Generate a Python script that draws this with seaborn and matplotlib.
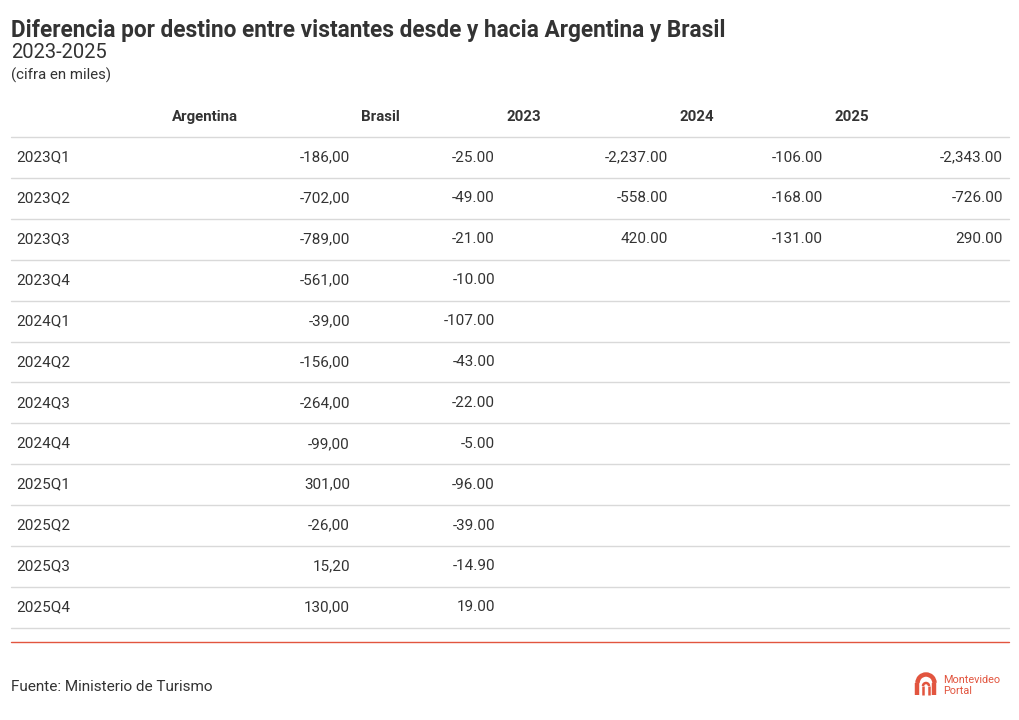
"""
Tabla: diferencia por destino entre visitantes desde y hacia Argentina y Brasil.
Se dibuja como tabla de texto sobre un eje en coordenadas de pixel.
"""
import matplotlib.pyplot as plt
import matplotlib.patches as mpatches
import seaborn as sns

# --- Datos ---
QUARTERS = ['2023Q1', '2023Q2', '2023Q3', '2023Q4', '2024Q1', '2024Q2',
            '2024Q3', '2024Q4', '2025Q1', '2025Q2', '2025Q3', '2025Q4']
ARGENTINA = [-186, -702, -789, -561, -39, -156, -264, -99, 301, -26, 15.2, 130]
BRASIL = [-25, -49, -21, -10, -107, -43, -22, -5, -96, -39, -14.9, 19]
Y2023 = [-2237, -558, 420]
Y2024 = [-106, -168, -131]
Y2025 = [-2343, -726, 290]
HEADERS = ['Argentina', 'Brasil', '2023', '2024', '2025']

TEXT = '#333333'
GRID = '#d9d9d9'
RED = '#e2553f'
FONT = 'Roboto'


def fmt_dot(v):
    return f'{v:,.2f}'


def fmt_comma(v):
    # formato con coma decimal, sin separador de miles
    return f'{v:.2f}'.replace('.', ',')


sns.set_theme(style='white')
plt.rcParams['font.family'] = [FONT, 'DejaVu Sans']

fig = plt.figure(figsize=(10.2, 7.2), dpi=100)
ax = fig.add_axes([0, 0, 1, 1])
ax.set_xlim(0, 1020)
ax.set_ylim(720, 0)
ax.axis('off')

# Titulos
ax.text(11, 31, 'Diferencia por destino entre vistantes desde y hacia Argentina y Brasil',
        fontsize=16.3, fontweight='bold', color=TEXT, va='center')
ax.text(11, 52, '2023-2025', fontsize=14.5, color=TEXT, va='center')
ax.text(11, 75, '(cifra en miles)', fontsize=10.8, color=TEXT, va='center')

# Encabezados
header_x = [172, 361, 507, 680, 835]
for x, h in zip(header_x, HEADERS):
    ax.text(x, 117, h, fontsize=10.8, fontweight='bold', color=TEXT, va='center')
ax.plot([11, 1009], [136.5, 136.5], color=GRID, lw=1)

# Filas
row_h = 40.9
y0 = 157.5
value_cols = [350, 495, 668, 823, 1003]
for i, q in enumerate(QUARTERS):
    y = y0 + i * row_h
    ax.text(16, y, q, fontsize=11, color=TEXT, va='center')
    ax.text(value_cols[0], y, fmt_comma(ARGENTINA[i]), fontsize=11,
            color=TEXT, va='center', ha='right')
    ax.text(value_cols[1], y, fmt_dot(BRASIL[i]), fontsize=11,
            color=TEXT, va='center', ha='right')
    for col, series in zip(value_cols[2:], [Y2023, Y2024, Y2025]):
        if i < len(series):
            ax.text(col, y, fmt_dot(series[i]), fontsize=11,
                    color=TEXT, va='center', ha='right')
    ly = y + row_h / 2
    ax.plot([11, 1009], [ly, ly], color=GRID, lw=1)

# Linea roja de cierre
ax.plot([11, 1009], [642, 642], color=RED, lw=1)

# Fuente
ax.text(11, 687, 'Fuente: Ministerio de Turismo', fontsize=11, color=TEXT, va='center')

# Logo (arco tipo "M" de Montevideo Portal)
arch = mpatches.Arc((926, 683), 17, 17, theta1=180, theta2=360, color=RED, lw=3.2)
ax.add_patch(arch)
ax.plot([917.5, 917.5], [683, 695], color=RED, lw=3.2, solid_capstyle='butt')
ax.plot([934.5, 934.5], [683, 695], color=RED, lw=3.2, solid_capstyle='butt')
arch_in = mpatches.Arc((926, 686), 6, 6, theta1=180, theta2=360, color=RED, lw=1.8)
ax.add_patch(arch_in)
ax.plot([923, 923], [686, 695], color=RED, lw=1.8, solid_capstyle='butt')
ax.plot([929, 929], [686, 695], color=RED, lw=1.8, solid_capstyle='butt')
ax.text(943, 680, 'Montevideo', fontsize=7.8, color=RED, va='center')
ax.text(943, 691, 'Portal', fontsize=7.8, color=RED, va='center')

fig.savefig('out.png', dpi=100, facecolor='white')
